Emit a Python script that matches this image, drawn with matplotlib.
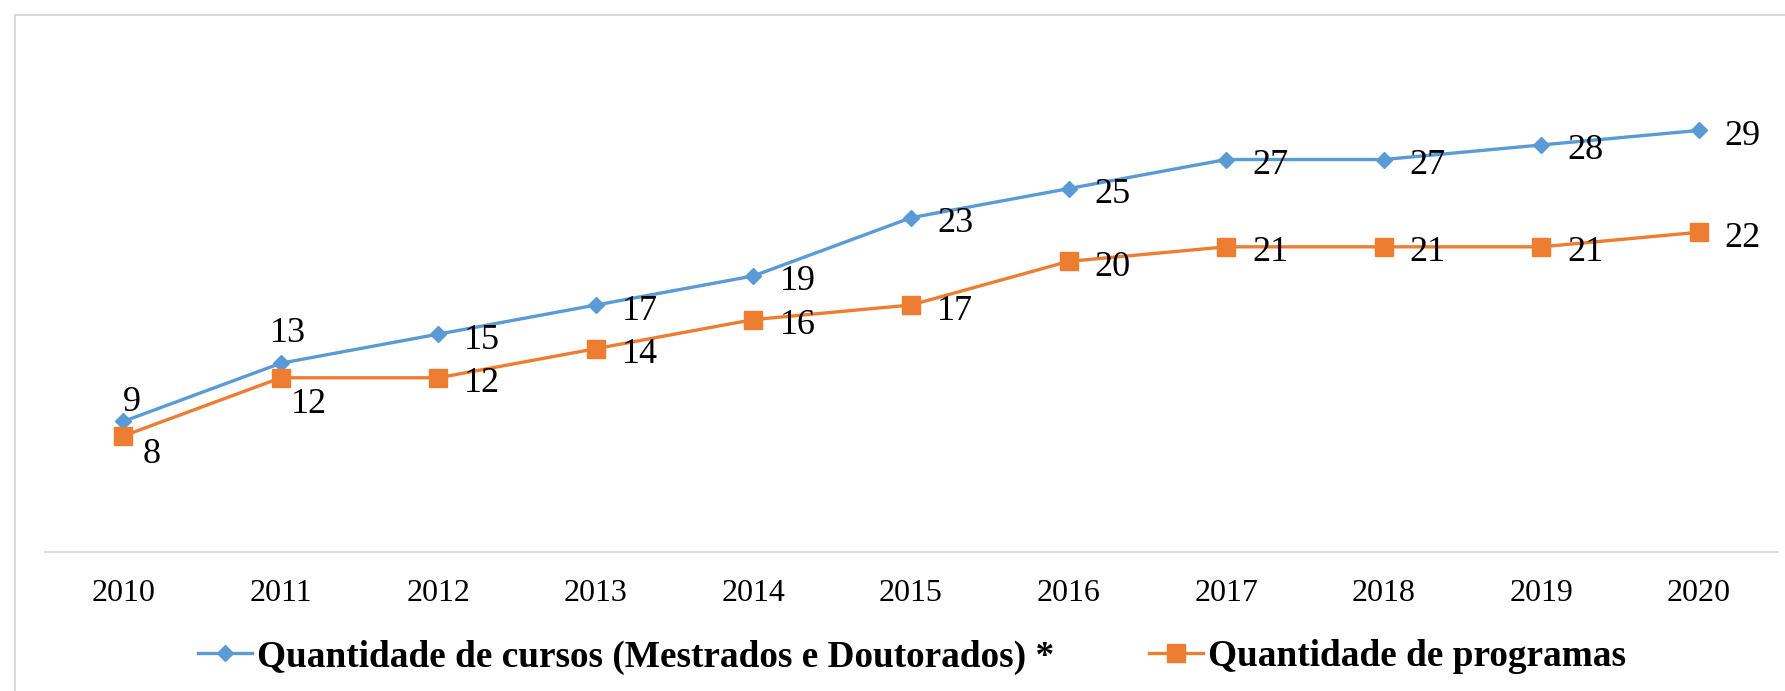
import matplotlib.pyplot as plt
from matplotlib.patches import Rectangle

plt.rcParams['font.family'] = ['Liberation Serif', 'DejaVu Serif']

# dados do grafico
anos = ['2010', '2011', '2012', '2013', '2014', '2015', '2016', '2017', '2018', '2019', '2020']
cursos = [9, 13, 15, 17, 19, 23, 25, 27, 27, 28, 29]
programas = [8, 12, 12, 14, 16, 17, 20, 21, 21, 21, 22]

nome_cursos = 'Quantidade de cursos (Mestrados e Doutorados) *'
nome_programas = 'Quantidade de programas'

azul = '#5B9BD5'
laranja = '#ED7D31'
cinza = '#D9D9D9'

# deslocamento dos rotulos em pixels (x, y)
desl_padrao = (44, -6)
desl_cursos = {0: (9, 19), 1: (7, 30)}
desl_programas = {0: (28, -19), 1: (28, -27)}

fig = plt.figure(figsize=(17.85, 6.91), dpi=100)

# moldura cinza do grafico
moldura = Rectangle((14.5 / 1785, -0.1), 1.2, 1.1 - 14.5 / 691, transform=fig.transFigure,
                    fill=False, edgecolor=cinza, linewidth=1.4)
fig.patches.append(moldura)

ax = fig.add_axes([0.02493, 0.2006, 0.97087, 0.737])
x = range(len(anos))

l1, = ax.plot(x, cursos, color=azul, linewidth=2.4, marker='D', markersize=8.5, zorder=3)
l2, = ax.plot(x, programas, color=laranja, linewidth=2.4, marker='s', markersize=12.4, zorder=3)

for i in x:
    ax.annotate(str(cursos[i]), (i, cursos[i]), xytext=desl_cursos.get(i, desl_padrao),
                textcoords='offset pixels', ha='center', va='center', fontsize=26, zorder=5)
    ax.annotate(str(programas[i]), (i, programas[i]), xytext=desl_programas.get(i, desl_padrao),
                textcoords='offset pixels', ha='center', va='center', fontsize=26, zorder=5)

ax.set_xlim(-0.5, 10.5)
ax.set_ylim(0, 35)
ax.set_xticks(list(x))
ax.set_xticklabels(anos, fontsize=23)
ax.tick_params(axis='x', length=0, pad=19.5)
ax.set_yticks([])
for lado in ['top', 'left', 'right']:
    ax.spines[lado].set_visible(False)
ax.spines['bottom'].set_color(cinza)
ax.spines['bottom'].set_linewidth(1.3)
ax.patch.set_alpha(0)

fig.legend([l1, l2], [nome_cursos, nome_programas], loc='center left',
           bbox_to_anchor=(198 / 1785, 1 - 657 / 691), ncol=2, frameon=False,
           borderpad=0, borderaxespad=0, handlelength=1.45, handletextpad=0.13,
           columnspacing=2.55, prop={'weight': 'bold', 'size': 26.8})

fig.savefig('out.png', dpi=100)
